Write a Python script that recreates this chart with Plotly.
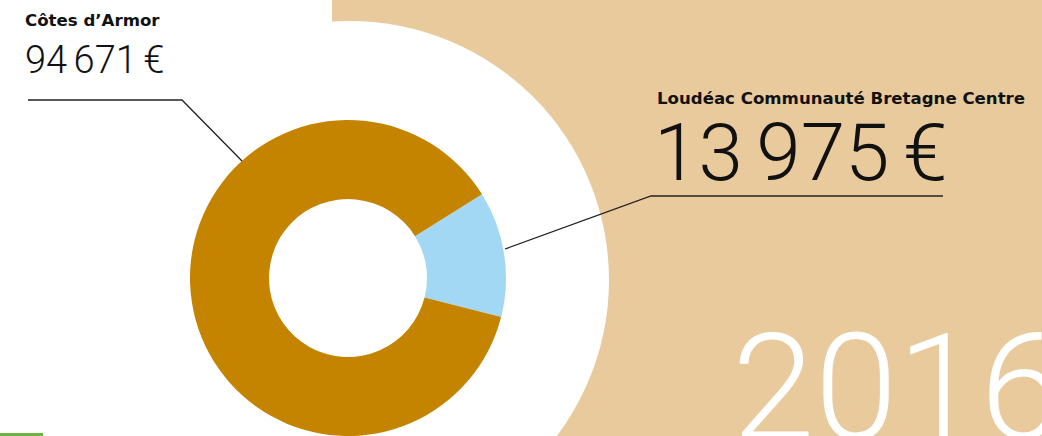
import plotly.graph_objects as go

# ---- data ----
labels = ["Loudéac Communauté Bretagne Centre", "Côtes d’Armor"]
values = [13975, 94671]
colors = ["#A3D8F5", "#C48400"]
year = "2016"

W, H = 1042, 436
BEIGE = "#E8CA9C"


def px(x):
    return x / W


def py(y):
    return (H - y) / H


def fmt(v):
    return f"{v:,}".replace(",", "\u2006") + "\u2006€"


# pie geometry (pixels)
cx, cy, r = 348, 278, 158

fig = go.Figure(
    go.Pie(
        labels=labels,
        values=values,
        marker=dict(colors=colors, line=dict(width=0)),
        hole=0.5,
        sort=False,
        direction="clockwise",
        rotation=58,
        textinfo="none",
        hoverinfo="label+value",
        domain=dict(x=[px(cx - r), px(cx + r)], y=[py(cy + r), py(cy - r)]),
        showlegend=False,
    )
)

shapes = [
    dict(type="rect", xref="paper", yref="paper", x0=px(332), x1=1, y0=0, y1=1,
         fillcolor=BEIGE, line=dict(width=0), layer="below"),
    dict(type="circle", xref="paper", yref="paper",
         x0=px(350 - 259), x1=px(350 + 259), y0=py(280 + 259), y1=py(280 - 259),
         fillcolor="white", line=dict(width=0), layer="below"),
    dict(type="rect", xref="paper", yref="paper", x0=0, x1=px(43), y0=0, y1=py(433),
         fillcolor="#6DB33F", line=dict(width=0), layer="below"),
    dict(type="path", xref="paper", yref="paper",
         path=f"M {px(28)},{py(100)} L {px(182)},{py(100)} L {px(242)},{py(161)}",
         line=dict(color="#222222", width=1.3)),
    dict(type="path", xref="paper", yref="paper",
         path=f"M {px(505)},{py(249)} L {px(651)},{py(196)} L {px(943)},{py(196)}",
         line=dict(color="#222222", width=1.3)),
]

annotations = [
    dict(text="<b>" + labels[1] + "</b>", x=px(23), y=py(21), xanchor="left", yanchor="middle",
         font=dict(family="DejaVu Sans", size=16.6, color="#111111"), showarrow=False),
    dict(text=fmt(values[1]), x=px(23), y=py(60), xanchor="left", yanchor="middle",
         font=dict(family="Roboto", size=38, color="#111111", weight=300), showarrow=False),
    dict(text="<b>" + labels[0] + "</b>", x=px(655), y=py(98), xanchor="left", yanchor="middle",
         font=dict(family="DejaVu Sans", size=16.6, color="#111111"), showarrow=False),
    dict(text=fmt(values[0]), x=px(652), y=py(153), xanchor="left", yanchor="middle",
         font=dict(family="Roboto", size=80, color="#111111", weight=300), showarrow=False),
    dict(text=year, x=px(730), y=py(388), xanchor="left", yanchor="middle",
         font=dict(family="Roboto", size=149, color="white", weight=300), showarrow=False),
]

fig.update_layout(
    width=W,
    height=H,
    margin=dict(l=0, r=0, t=0, b=0),
    paper_bgcolor="white",
    plot_bgcolor="white",
    shapes=shapes,
    annotations=annotations,
)

fig.write_html("out.html")
